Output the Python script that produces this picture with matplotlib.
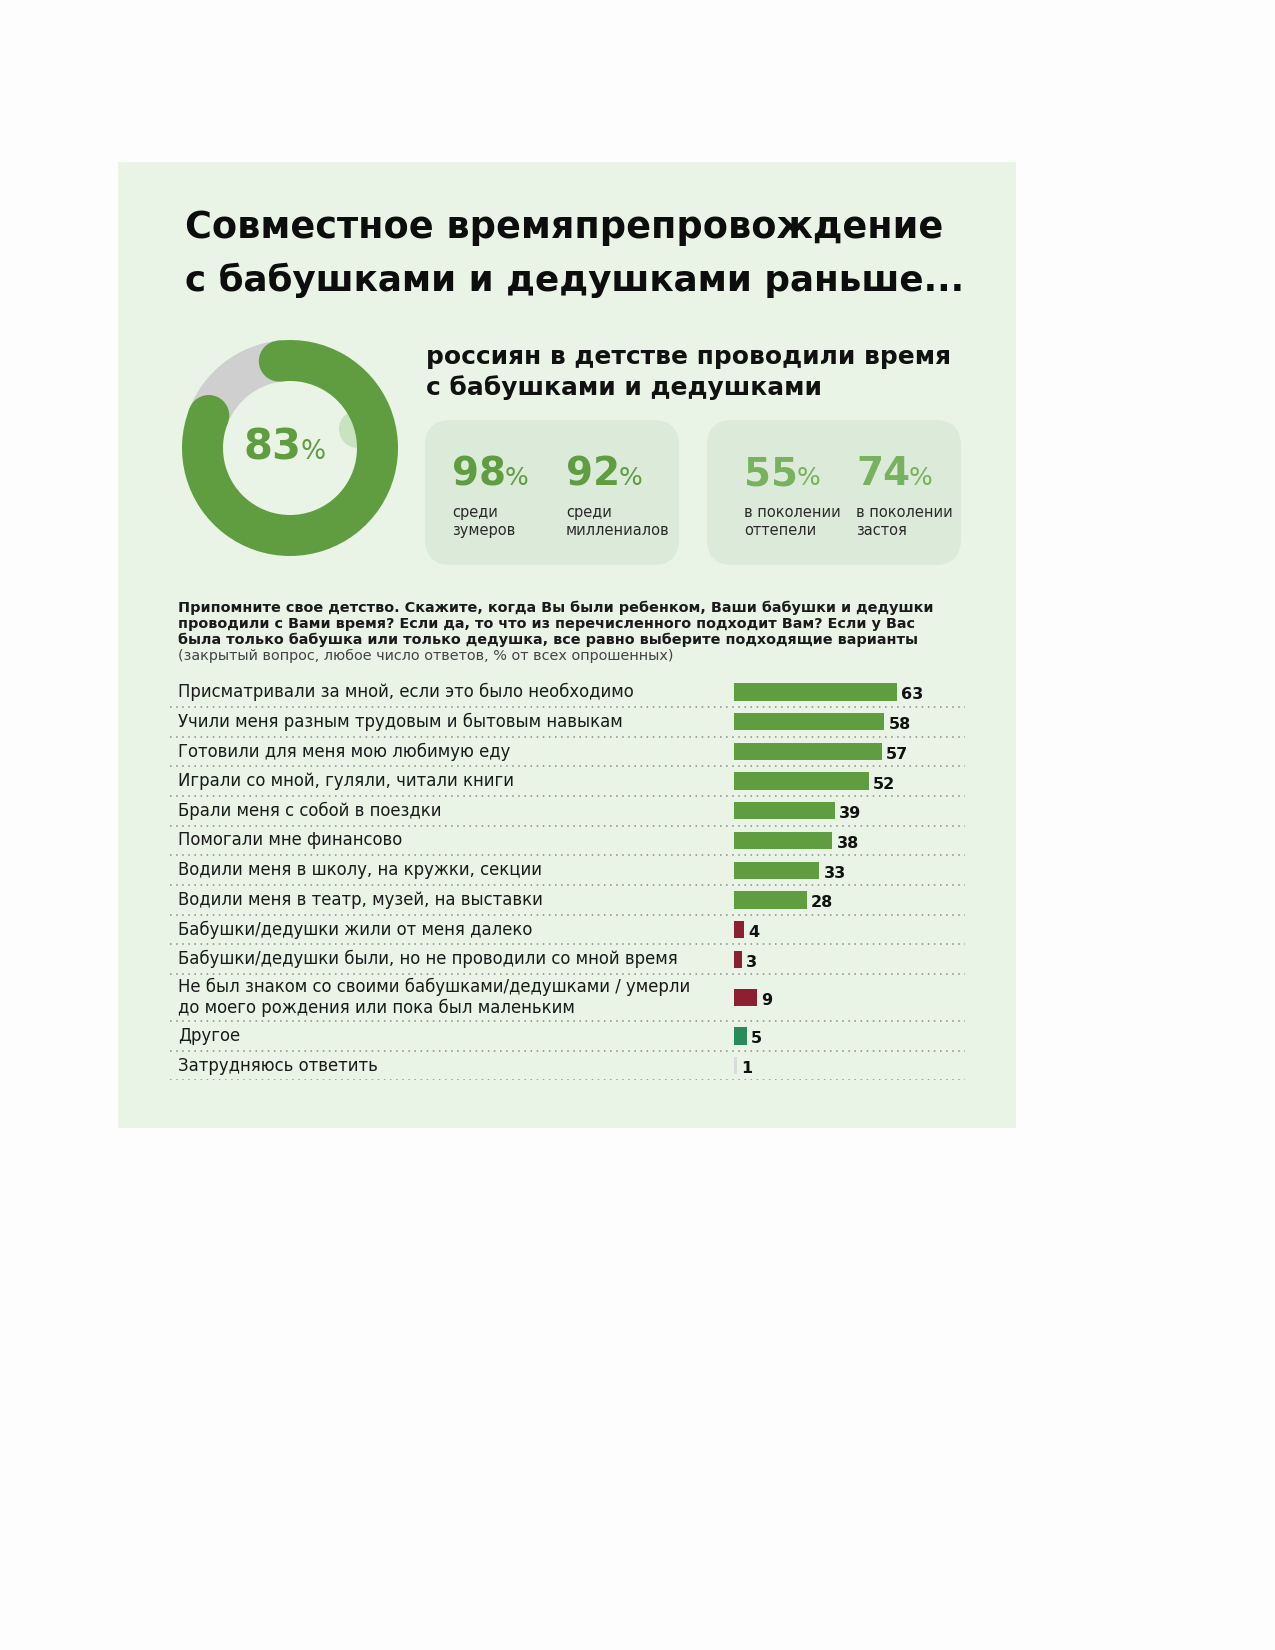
import matplotlib
matplotlib.use("Agg")
import matplotlib.pyplot as plt
from matplotlib.patches import Rectangle, FancyBboxPatch, Circle
from matplotlib.transforms import blended_transform_factory
import numpy as np

plt.rcParams['font.family'] = ['DejaVu Sans']

# ---------------- data ----------------
title_lines = ["Совместное времяпрепровождение", "с бабушками и дедушками раньше..."]
donut_value = 83
subtitle_lines = ["россиян в детстве проводили время", "с бабушками и дедушками"]
stat_values = [98, 92, 55, 74]
stat_labels = ["среди\nзумеров", "среди\nмиллениалов", "в поколении\nоттепели", "в поколении\nзастоя"]
question_lines = [
    "Припомните свое детство. Скажите, когда Вы были ребенком, Ваши бабушки и дедушки",
    "проводили с Вами время? Если да, то что из перечисленного подходит Вам? Если у Вас",
    "была только бабушка или только дедушка, все равно выберите подходящие варианты",
]
question_note = "(закрытый вопрос, любое число ответов, % от всех опрошенных)"
categories = [
    "Присматривали за мной, если это было необходимо",
    "Учили меня разным трудовым и бытовым навыкам",
    "Готовили для меня мою любимую еду",
    "Играли со мной, гуляли, читали книги",
    "Брали меня с собой в поездки",
    "Помогали мне финансово",
    "Водили меня в школу, на кружки, секции",
    "Водили меня в театр, музей, на выставки",
    "Бабушки/дедушки жили от меня далеко",
    "Бабушки/дедушки были, но не проводили со мной время",
    "Не был знаком со своими бабушками/дедушками / умерли\nдо моего рождения или пока был маленьким",
    "Другое",
    "Затрудняюсь ответить",
]
values = [63, 58, 57, 52, 39, 38, 33, 28, 4, 3, 9, 5, 1]
groups = ["yes"] * 8 + ["no"] * 3 + ["other", "dk"]

# ---------------- style ----------------
GREEN = "#5f9d40"
LIGHTGREEN = "#79b25e"
GRAY = "#cfcfcf"
PANEL = "#e9f3e6"
BOX = "#dcebd9"
TXT = "#1a1a1a"
group_colors = {"yes": GREEN, "no": "#8c1f30", "other": "#2b8a5a", "dk": "#dadada"}

W, H = 1275, 1650
fig = plt.figure(figsize=(W / 100, H / 100), dpi=100)
fig.patch.set_facecolor("#fdfdfd")
renderer = fig.canvas.get_renderer()

bg = fig.add_axes([0, 0, 1, 1])
bg.set_xlim(0, W)
bg.set_ylim(H, 0)
bg.axis("off")
bg.add_patch(Rectangle((118, 162), 1016 - 118, 1128 - 162, facecolor=PANEL, edgecolor="none", zorder=0))


def width_px(t):
    return t.get_window_extent(renderer=renderer).width


def fit(x, y, s, target_w, **kw):
    t = bg.text(x, y, s, **kw)
    fs = t.get_fontsize()
    w = width_px(t)
    t.set_fontsize(fs * target_w / w)
    return t


# title
fit(185, 228, title_lines[0], 757, fontsize=20, fontweight="heavy", color="#0d0d0d", va="center")
fit(185, 280, title_lines[1], 780, fontsize=20, fontweight="heavy", color="#0d0d0d", va="center")

# subtitle
st = fit(426, 357, subtitle_lines[0], 525, fontsize=16, fontweight="bold", color="#111", va="center")
bg.text(426, 388, subtitle_lines[1], fontsize=st.get_fontsize(), fontweight="bold", color="#111", va="center")

# stat boxes
for bx in (425, 707):
    bg.add_patch(FancyBboxPatch((bx, 420), 254, 145, boxstyle="round,pad=0,rounding_size=26",
                                facecolor=BOX, edgecolor="none", zorder=1))
stat_x = [452, 566, 744, 856]
stat_col = [GREEN, GREEN, LIGHTGREEN, LIGHTGREEN]
for x, v, lab, c in zip(stat_x, stat_values, stat_labels, stat_col):
    t = bg.text(x, 485, str(v), fontsize=28, fontweight="heavy", color=c, va="baseline", zorder=3)
    w = width_px(t)
    bg.text(x + w - 1, 485, "%", fontsize=18, color=c, va="baseline", zorder=3)
    bg.text(x, 505, lab, fontsize=10.5, color="#2a2a2a", va="top", linespacing=1.25, zorder=3)

# ---------------- donut ----------------
cx, cy, R, ring = 290, 448, 108, 41
dax = fig.add_axes([(cx - R) / W, 1 - (cy + R) / H, 2 * R / W, 2 * R / H])
dax.set_xlim(-R, R)
dax.set_ylim(-R, R)
dax.set_aspect("equal")
dax.axis("off")
dax.add_patch(Circle((68, 19), 19, facecolor="#c9e2c1", edgecolor="none", zorder=0))
start = 97
wedges, _ = dax.pie([donut_value, 100 - donut_value], colors=[GREEN, GRAY], startangle=start,
                    counterclock=False, radius=R, wedgeprops=dict(width=ring, edgecolor="none"),
                    center=(0, 0), frame=False)
wedges[1].set_zorder(1)
wedges[0].set_zorder(2)
rmid = R - ring / 2
end = start - 360 * donut_value / 100
for a in (start, end):
    dax.add_patch(Circle((rmid * np.cos(np.radians(a)), rmid * np.sin(np.radians(a))), ring / 2,
                         facecolor=GREEN, edgecolor="none", zorder=2))
dax.set_xlim(-R, R)
dax.set_ylim(-R, R)
t83 = bg.text(243, 459, str(donut_value), fontsize=30, fontweight="heavy", color=GREEN, va="baseline")
bg.text(243 + width_px(t83) - 1, 459, "%", fontsize=19, color=GREEN, va="baseline")

# ---------------- question ----------------
qy = [608, 624, 640]
q0 = fit(178, qy[0], question_lines[0], 748, fontsize=11, fontweight="semibold", color=TXT, va="center")
qfs = q0.get_fontsize()
for y, s in zip(qy[1:], question_lines[1:]):
    bg.text(178, y, s, fontsize=qfs, fontweight="semibold", color=TXT, va="center")
bg.text(178, 656, question_note, fontsize=qfs, color="#444", va="center")

# ---------------- bars ----------------
row_h = [1.58 if "\n" in c else 1.0 for c in categories]
edges = np.concatenate([[0], np.cumsum(row_h)])
centers = (edges[:-1] + edges[1:]) / 2
unit_px = 29.7
x0_px, x1_px, zero_px, px_per = 170, 965, 734, 2.59
top_px = 692 - unit_px / 2
bax = fig.add_axes([x0_px / W, 1 - (top_px + edges[-1] * unit_px) / H,
                    (x1_px - x0_px) / W, edges[-1] * unit_px / H])
bax.set_xlim(-(zero_px - x0_px) / px_per, (x1_px - zero_px) / px_per)
bax.set_ylim(edges[-1], 0)
bax.axis("off")
bax.patch.set_alpha(0)
bcolors = [group_colors[g] for g in groups]
bax.barh(centers, values, height=0.58, color=bcolors, edgecolor="none", zorder=2)
bax.hlines(edges[1:], *bax.get_xlim(), colors="#8a8a8a", linestyles=(0, (1, 3)), linewidth=1.1, zorder=1)
tr = blended_transform_factory(bax.transAxes, bax.transData)
lab0 = bax.text(0.01, centers[0], categories[0], transform=tr, fontsize=12, color=TXT, va="center")
lfs = lab0.get_fontsize() * (633 - 178) / width_px(lab0)
lab0.set_fontsize(lfs)
for c, s in zip(centers[1:], categories[1:]):
    bax.text(0.01, c, s, transform=tr, fontsize=lfs, color=TXT, va="center", linespacing=1.2)
for c, v in zip(centers, values):
    bax.text(v + 1.6, c + 0.1, str(v), fontsize=11.5, fontweight="heavy", color="#111", va="center")

fig.savefig("out.png", dpi=100, facecolor=fig.get_facecolor())
